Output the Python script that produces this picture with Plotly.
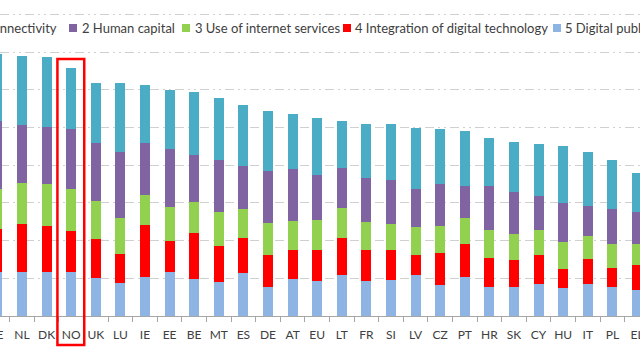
import plotly.graph_objects as go

countries = ["SE", "NL", "DK", "NO", "UK", "LU", "IE", "EE", "BE", "MT", "ES", "DE", "AT",
             "EU", "LT", "FR", "SI", "LV", "CZ", "PT", "HR", "SK", "CY", "HU", "IT", "PL", "EL"]

connectivity = [0.177, 0.182, 0.186, 0.163, 0.161, 0.182, 0.154, 0.156, 0.165, 0.164, 0.162, 0.160, 0.147,
                0.150, 0.125, 0.142, 0.147, 0.162, 0.146, 0.144, 0.125, 0.132, 0.139, 0.150, 0.143, 0.131, 0.105]
human_capital = [0.179, 0.155, 0.153, 0.159, 0.153, 0.176, 0.138, 0.155, 0.125, 0.140, 0.112, 0.136, 0.138,
                 0.120, 0.105, 0.117, 0.117, 0.101, 0.113, 0.087, 0.117, 0.112, 0.088, 0.104, 0.081, 0.092, 0.083]
use_internet = [0.107, 0.107, 0.109, 0.110, 0.102, 0.094, 0.078, 0.090, 0.082, 0.088, 0.079, 0.087, 0.076,
                0.080, 0.079, 0.074, 0.069, 0.073, 0.072, 0.069, 0.074, 0.069, 0.068, 0.072, 0.061, 0.064, 0.057]
integration = [0.114, 0.129, 0.124, 0.110, 0.103, 0.078, 0.138, 0.080, 0.124, 0.097, 0.091, 0.085, 0.079,
               0.081, 0.100, 0.084, 0.081, 0.054, 0.085, 0.086, 0.077, 0.071, 0.077, 0.051, 0.065, 0.050, 0.066]
public_services = [0.117, 0.116, 0.116, 0.116, 0.100, 0.087, 0.104, 0.118, 0.097, 0.090, 0.115, 0.076, 0.097,
                   0.093, 0.108, 0.092, 0.095, 0.108, 0.081, 0.104, 0.078, 0.078, 0.084, 0.074, 0.086, 0.078, 0.069]

series_names = ["1 Connectivity", "2 Human capital", "3 Use of internet services",
                "4 Integration of digital technology", "5 Digital public services"]
colors = ["#4BACC6", "#8064A2", "#92D050", "#FF0000", "#8DB4E2"]
values = [connectivity, human_capital, use_internet, integration, public_services]

highlight = "NO"

fig = go.Figure()
# stack bottom-to-top: 5, 4, 3, 2, 1
for name, col, vals in reversed(list(zip(series_names, colors, values))):
    fig.add_trace(go.Bar(x=countries, y=vals, name=name, marker=dict(color=col, line=dict(width=0)),
                         showlegend=False, hoverinfo="skip"))

W, H = 640, 360
mb = 44
plot_h = H - mb
px_per_cat = 24.6
r0 = 0.1057
r1 = r0 + W / px_per_cat
tick_font = dict(size=12, color="#404040")

fig.update_layout(
    width=W, height=H,
    margin=dict(l=0, r=0, t=0, b=mb, autoexpand=False),
    barmode="stack", bargap=0.59,
    plot_bgcolor="white", paper_bgcolor="white",
    font=dict(family="Lato, Liberation Sans, sans-serif", color="#404040"),
    xaxis=dict(range=[r0, r1], showline=True, linecolor="#A6A6A6", linewidth=1,
               ticks="outside", tickson="boundaries", ticklen=5, tickcolor="#A6A6A6",
               tickangle=0, automargin=False, ticklabelstandoff=8,
               tickfont=tick_font, showgrid=False),
    yaxis=dict(range=[0, plot_h / 377.0], dtick=0.1, showticklabels=False, automargin=False,
               showgrid=True, gridcolor="#D0D0D0", gridwidth=1,
               griddash="9px,4px,2px,4px,2px,4px", zeroline=False),
)

# category label of the first (partly cropped) bar, placed at its axis position
first_paper_x = (0 - r0) / (r1 - r0)
fig.add_annotation(xref="paper", yref="paper", x=first_paper_x, y=(plot_h - 334) / plot_h,
                   text=countries[0], showarrow=False, xanchor="center", yanchor="middle",
                   font=tick_font)

# legend drawn as text + small squares along the top
leg_y_px = 28
leg_y = (plot_h - leg_y_px) / plot_h
sq = 8
items = [
    (None, 59, "right"),
    (69, 80, "left"),
    (182, 193, "left"),
    (343, 353, "left"),
    (553, 563, "left"),
]
for (sqx, tx, anchor), name, col in zip(items, series_names, colors):
    if sqx is not None:
        fig.add_shape(type="rect", xref="paper", yref="paper",
                      x0=sqx / W, x1=(sqx + sq) / W,
                      y0=(plot_h - leg_y_px - sq / 2) / plot_h, y1=(plot_h - leg_y_px + sq / 2) / plot_h,
                      fillcolor=col, line=dict(width=0))
    fig.add_annotation(xref="paper", yref="paper", x=tx / W, y=leg_y, text=name,
                       showarrow=False, xanchor=anchor, yanchor="middle",
                       font=dict(size=13, color="#404040"))

# red box highlighting Norway
idx = countries.index(highlight)
fig.add_shape(type="rect", xref="x", yref="paper",
              x0=idx - 0.56, x1=idx + 0.53,
              y0=(plot_h - 345) / plot_h, y1=(plot_h - 59) / plot_h,
              line=dict(color="#FF0000", width=2.5), fillcolor="rgba(0,0,0,0)", layer="above")

fig.write_html("out.html", config={"displayModeBar": False},
               post_script="document.body.style.margin='0';document.body.style.overflow='hidden';")
